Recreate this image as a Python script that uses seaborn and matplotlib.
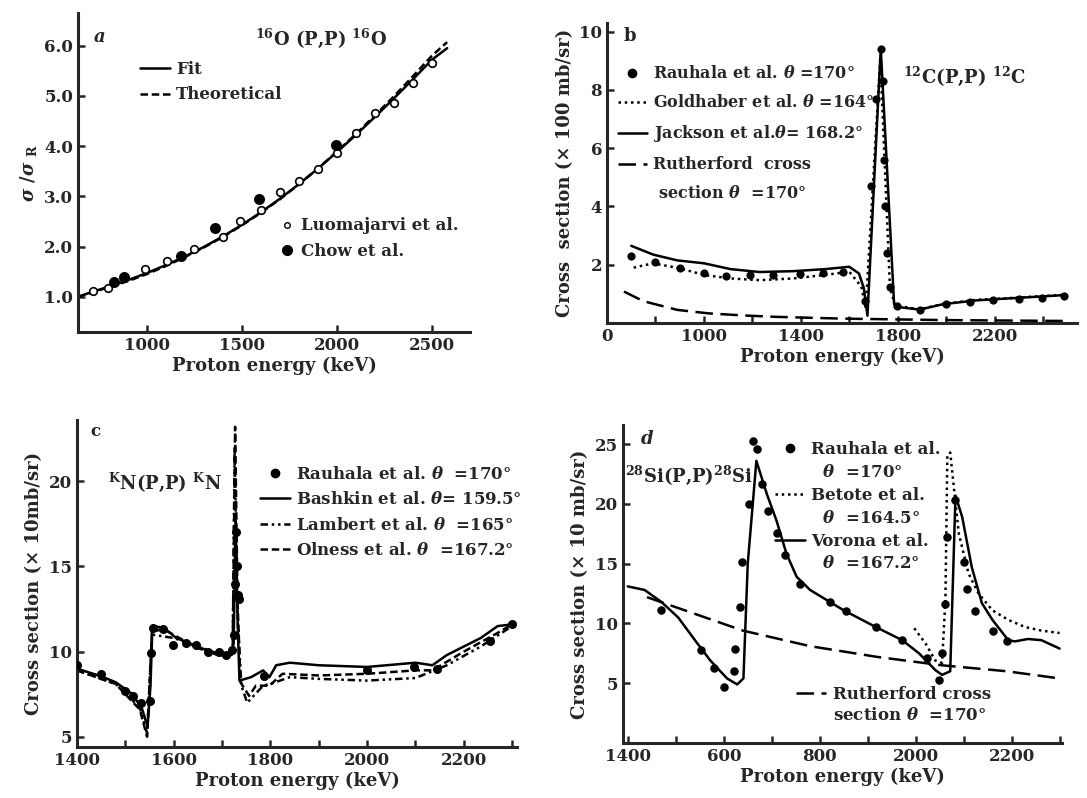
import matplotlib
matplotlib.use("Agg")
import matplotlib.pyplot as plt
from matplotlib.lines import Line2D
import seaborn as sns

# ---- panel a : 16O(p,p)16O, ratio to Rutherford ----
a_curve_e = [640, 700, 800, 900, 1000, 1100, 1200, 1300, 1400, 1500, 1600, 1700,
             1800, 1900, 2000, 2100, 2200, 2300, 2400, 2500, 2580]
a_fit = [1.0, 1.08, 1.2, 1.33, 1.47, 1.63, 1.8, 1.99, 2.2, 2.43, 2.68, 2.95,
         3.24, 3.55, 3.88, 4.22, 4.58, 4.95, 5.33, 5.72, 5.95]
a_theory = [1.0, 1.07, 1.19, 1.31, 1.45, 1.61, 1.79, 1.98, 2.19, 2.42, 2.67, 2.94,
            3.24, 3.55, 3.89, 4.24, 4.61, 4.99, 5.39, 5.8, 6.07]
a_luoma_e = [720, 800, 990, 1110, 1250, 1400, 1490, 1600, 1700, 1800, 1900, 2000,
             2100, 2200, 2300, 2400, 2500]
a_luoma = [1.12, 1.18, 1.55, 1.72, 1.96, 2.2, 2.5, 2.72, 3.08, 3.3, 3.55, 3.87,
           4.27, 4.65, 4.85, 5.25, 5.65]
a_chow_e = [830, 880, 1180, 1360, 1590, 1995]
a_chow = [1.3, 1.4, 1.82, 2.38, 2.95, 4.02]

# ---- panel b : 12C(p,p)12C ----
b_jackson_e = [700, 790, 890, 1000, 1110, 1230, 1370, 1500, 1600, 1640, 1660, 1675,
               1730, 1785, 1800, 1890, 1990, 2130, 2270, 2490]
b_jackson = [2.65, 2.35, 2.15, 2.05, 1.85, 1.75, 1.78, 1.85, 1.93, 1.7, 1.2, 0.25,
             9.42, 0.65, 0.55, 0.46, 0.65, 0.78, 0.85, 0.96]
b_gold_e = [710, 790, 900, 1000, 1110, 1230, 1370, 1500, 1600, 1650, 1668, 1728,
            1768, 1790, 1890, 1990, 2130, 2270, 2490]
b_gold = [1.9, 2.05, 1.88, 1.65, 1.53, 1.47, 1.53, 1.65, 1.76, 1.25, 0.5, 9.1,
          1.2, 0.6, 0.47, 0.66, 0.8, 0.86, 0.97]
b_rauh_e = [700, 800, 900, 1000, 1090, 1190, 1285, 1395, 1490, 1575, 1665, 1690,
            1712, 1730, 1740, 1744, 1748, 1755, 1770, 1795, 1890, 2000, 2100, 2195,
            2300, 2395, 2485]
b_rauh = [2.3, 2.1, 1.9, 1.7, 1.62, 1.65, 1.65, 1.68, 1.7, 1.76, 0.75, 4.7,
          7.7, 9.4, 8.3, 5.6, 4.0, 2.4, 1.25, 0.58, 0.45, 0.65, 0.73, 0.78,
          0.84, 0.86, 0.92]
b_ruth_e = [670, 750, 890, 1020, 1160, 1300, 1575, 1990, 2490]
b_ruth = [1.08, 0.75, 0.45, 0.33, 0.26, 0.21, 0.15, 0.1, 0.07]

# ---- panel c : N(p,p)N ----
c_bashkin_e = [1400, 1450, 1480, 1515, 1535, 1546, 1552, 1556, 1580, 1605, 1650, 1690,
               1720, 1724, 1728, 1732, 1736, 1760, 1785, 1798, 1812, 1840, 1900, 2000,
               2100, 2135, 2165, 2200, 2235, 2270, 2300]
c_bashkin = [9.0, 8.55, 8.2, 7.5, 6.6, 5.6, 8.0, 11.5, 11.4, 10.8, 10.3, 9.8,
             9.8, 10.5, 18.0, 12.0, 8.3, 8.5, 8.9, 8.5, 9.2, 9.35, 9.2, 9.1,
             9.35, 9.2, 9.8, 10.3, 10.8, 11.5, 11.6]
c_lambert_e = [1400, 1480, 1530, 1545, 1555, 1600, 1700, 1722, 1726, 1732, 1740, 1752,
               1785, 1805, 1840, 1900, 2000, 2100, 2165, 2235, 2300]
c_lambert = [8.9, 8.1, 6.7, 5.2, 11.0, 10.8, 9.8, 10.0, 22.0, 12.0, 8.0, 7.0,
             8.0, 8.15, 8.5, 8.4, 8.3, 8.45, 9.2, 10.3, 11.5]
c_olness_e = [1400, 1480, 1530, 1545, 1555, 1580, 1650, 1700, 1722, 1727, 1732, 1738,
              1756, 1770, 1798, 1825, 1900, 2000, 2100, 2135, 2200, 2270, 2300]
c_olness = [8.9, 8.1, 6.6, 5.0, 11.2, 11.3, 10.2, 9.8, 10.0, 23.2, 13.0, 8.2,
            7.4, 8.0, 8.0, 8.7, 8.6, 8.7, 8.9, 8.9, 10.0, 11.1, 11.6]
c_rauh_e = [1400, 1450, 1500, 1516, 1532, 1550, 1554, 1557, 1578, 1598, 1626, 1646,
            1670, 1694, 1708, 1720, 1724, 1726, 1728, 1730, 1733, 1736, 1786, 2000,
            2097, 2145, 2255, 2300]
c_rauh = [9.2, 8.7, 7.7, 7.4, 7.0, 7.1, 9.9, 11.4, 11.3, 10.4, 10.5, 10.4,
          10.0, 10.0, 9.8, 10.1, 11.0, 14.0, 17.0, 15.0, 13.3, 13.1, 8.55, 8.9,
          9.1, 9.0, 10.6, 11.6]

# ---- panel d : 28Si(p,p)28Si ----
d_vorona_e = [1400, 1435, 1470, 1505, 1540, 1572, 1607, 1628, 1641, 1650, 1668, 1690,
              1710, 1731, 1752, 1780, 1850, 1917, 1972, 2007, 2041, 2055, 2072, 2083,
              2097, 2117, 2138, 2160, 2193, 2207, 2234, 2262, 2300]
d_vorona = [13.1, 12.8, 11.8, 10.5, 8.6, 6.9, 5.4, 4.9, 5.4, 15.0, 23.6, 20.8,
            18.6, 15.8, 13.9, 12.8, 11.1, 9.7, 8.6, 7.5, 6.1, 5.7, 6.0, 20.7,
            18.9, 14.7, 11.7, 10.3, 8.6, 8.5, 8.7, 8.6, 7.9]
d_betote_e = [1997, 2021, 2041, 2055, 2062, 2066, 2072, 2078, 2090, 2110, 2131, 2160,
              2193, 2228, 2262, 2300]
d_betote = [9.6, 8.3, 6.9, 6.7, 12.0, 24.0, 24.3, 22.0, 17.5, 14.2, 12.5, 11.1,
            10.3, 9.7, 9.4, 9.2]
d_rauh_e = [1469, 1552, 1579, 1600, 1621, 1624, 1634, 1638, 1652, 1661, 1669, 1679,
            1693, 1710, 1728, 1759, 1821, 1855, 1917, 1972, 2024, 2048, 2055, 2062,
            2066, 2083, 2100, 2107, 2124, 2162, 2190]
d_rauh = [11.1, 7.8, 6.25, 4.7, 6.0, 7.9, 11.4, 15.1, 20.0, 25.3, 24.6, 21.7,
          19.4, 17.6, 15.7, 13.3, 11.8, 11.0, 9.7, 8.6, 7.1, 5.3, 7.5, 11.6,
          17.2, 20.3, 15.1, 12.9, 11.0, 9.4, 8.5]
d_ruth_e = [1440, 1640, 1780, 1920, 2055, 2190, 2300]
d_ruth = [12.2, 9.4, 8.1, 7.2, 6.5, 6.0, 5.4]

sns.set_style("ticks")
plt.rcParams['font.family'] = ['DejaVu Serif']
plt.rcParams['font.weight'] = 'bold'
plt.rcParams['axes.labelweight'] = 'bold'
plt.rcParams['mathtext.fontset'] = 'dejavuserif'
plt.rcParams['xtick.direction'] = 'in'
plt.rcParams['ytick.direction'] = 'in'

SOLID = '-'
DASH = (0, (3, 1.5))
LONGDASH = (0, (7, 3))
DOT = (0, (1, 1.5))
DASHDOT2 = (0, (3, 1.5, 1, 1.5, 1, 1.5))
LW = 1.8

W, H = 1087, 798
fig = plt.figure(figsize=(W / 100, H / 100), dpi=100)


def add_ax(l, t, r, b):
    ax = fig.add_axes([l / W, 1 - b / H, (r - l) / W, (b - t) / H])
    for s in ['top', 'right']:
        ax.spines[s].set_visible(False)
    for s in ['left', 'bottom']:
        ax.spines[s].set_linewidth(2.2)
    ax.tick_params(labelsize=12, width=1.8, length=5, which='both')
    return ax


def line(ax, x, y, ls):
    sns.lineplot(x=x, y=y, ax=ax, color='black', lw=LW, linestyle=ls,
                 sort=False, estimator=None, legend=False)


def dots(ax, x, y, s=24, fc='black'):
    sns.scatterplot(x=x, y=y, ax=ax, s=s, color=fc, edgecolor='black',
                    linewidth=1.2, legend=False, zorder=3)


def h_line(ls):
    return Line2D([], [], color='black', lw=LW, linestyle=ls)


def h_dot(fc='black', ms=6):
    return Line2D([], [], color='black', marker='o', ms=ms, mfc=fc, lw=0)


def h_blank():
    return Line2D([], [], lw=0)


def legend(ax, handles, labels, anchor, hl=1.8, spacing=0.5, size=12):
    return ax.legend(handles, labels, loc='upper left', bbox_to_anchor=anchor,
                     frameon=False, fontsize=size, handlelength=hl,
                     handletextpad=0.4, borderaxespad=0, labelspacing=spacing)


# ---- a ----
ax = add_ax(78, 13, 470, 332)
line(ax, a_curve_e, a_theory, DASH)
line(ax, a_curve_e, a_fit, SOLID)
dots(ax, a_luoma_e, a_luoma, s=30, fc='white')
dots(ax, a_chow_e, a_chow, s=45)
ax.set_xlim(640, 2700)
ax.set_ylim(0.3, 6.65)
ax.set_xticks([1000, 1500, 2000, 2500])
ax.set_yticks([1, 2, 3, 4, 5, 6])
ax.set_yticklabels(['1.0', '2.0', '3.0', '4.0', '5.0', '6.0'])
ax.set_xlabel('Proton energy (keV)', fontsize=13, labelpad=2)
ax.set_ylabel(r'$\sigma$ /$\sigma$ $_{\mathbf{R}}$', fontsize=13)
ax.add_artist(legend(ax, [h_line(SOLID), h_line(DASH)], ['Fit', 'Theoretical'],
                     (0.14, 0.87)))
legend(ax, [h_dot('white', 4), h_dot('black', 7)], ['Luomajarvi et al.', 'Chow et al.'],
       (0.5, 0.38), hl=0.8)
ax.text(0.04, 0.91, 'a', transform=ax.transAxes, fontsize=13, style='italic')
ax.text(0.62, 0.9, r'$^{16}$O (P,P) $^{16}$O', transform=ax.transAxes,
        fontsize=13, ha='center')

# ---- b ----
ax = add_ax(607, 23, 1077, 323)
line(ax, b_ruth_e, b_ruth, LONGDASH)
line(ax, b_gold_e, b_gold, DOT)
line(ax, b_jackson_e, b_jackson, SOLID)
dots(ax, b_rauh_e, b_rauh, s=22)
ax.set_xlim(600, 2540)
ax.set_ylim(0, 10.3)
ax.set_xticks([600, 1000, 1400, 1800, 2200])
ax.set_xticklabels(['0', '1000', '1400', '1800', '2200'])
ax.set_xticks([800, 1200, 1600, 2000, 2400], minor=True)
ax.set_yticks([2, 4, 6, 8, 10])
ax.set_xlabel('Proton energy (keV)', fontsize=13, labelpad=2)
ax.set_ylabel('Cross  section (× 100 mb/sr)', fontsize=13)
legend(ax, [h_dot(), h_line(DOT), h_line(SOLID), h_line(LONGDASH), h_blank()],
       [r'Rauhala et al. $\theta$ =170°', r'Goldhaber et al. $\theta$ =164°',
        r'Jackson et al.$\theta$= 168.2°', 'Rutherford  cross',
        ' section $\\theta$  =170°'],
       (0.01, 0.88), spacing=0.75, size=11.5)
ax.text(0.035, 0.94, 'b', transform=ax.transAxes, fontsize=13)
ax.text(0.76, 0.8, r'$^{12}$C(P,P) $^{12}$C', transform=ax.transAxes,
        fontsize=13, ha='center')

# ---- c ----
ax = add_ax(77, 420, 517, 747)
line(ax, c_lambert_e, c_lambert, DASHDOT2)
line(ax, c_olness_e, c_olness, DASH)
line(ax, c_bashkin_e, c_bashkin, SOLID)
dots(ax, c_rauh_e, c_rauh, s=28)
ax.set_xlim(1400, 2310)
ax.set_ylim(4.4, 23.6)
ax.set_xticks([1400, 1600, 1800, 2000, 2200])
ax.set_xticks([1500, 1700, 1900, 2100, 2300], minor=True)
ax.set_yticks([5, 10, 15, 20])
ax.set_xlabel('Proton energy (keV)', fontsize=13, labelpad=2)
ax.set_ylabel('Cross section (× 10mb/sr)', fontsize=13)
legend(ax, [h_dot(), h_line(SOLID), h_line(DASHDOT2), h_line(DASH)],
       [r'Rauhala et al. $\theta$  =170°', r'Bashkin et al. $\theta$= 159.5°',
        r'Lambert et al. $\theta$  =165°', r'Olness et al. $\theta$  =167.2°'],
       (0.4, 0.88))
ax.text(0.03, 0.95, 'c', transform=ax.transAxes, fontsize=12)
ax.text(0.2, 0.79, r'$^{\mathrm{K}}$N(P,P) $^{\mathrm{K}}$N', transform=ax.transAxes,
        fontsize=13, ha='center')

# ---- d ----
ax = add_ax(623, 425, 1062, 743)
line(ax, d_ruth_e, d_ruth, LONGDASH)
line(ax, d_betote_e, d_betote, DOT)
line(ax, d_vorona_e, d_vorona, SOLID)
dots(ax, d_rauh_e, d_rauh, s=24)
ax.set_xlim(1390, 2305)
ax.set_ylim(0, 26.6)
ax.set_xticks([1400, 1600, 1800, 2000, 2200])
ax.set_xticklabels(['1400', '600', '800', '2000', '2200'])
ax.set_xticks([1500, 1700, 1900, 2100, 2300], minor=True)
ax.set_yticks([5, 10, 15, 20, 25])
ax.set_xlabel('Proton energy (keV)', fontsize=13, labelpad=2)
ax.set_ylabel('Cross section (× 10 mb/sr)', fontsize=13)
ax.add_artist(legend(ax, [h_dot(), h_blank(), h_line(DOT), h_blank(), h_line(SOLID), h_blank()],
                     ['Rauhala et al.', '  $\\theta$  =170°', 'Betote et al.',
                      '  $\\theta$  =164.5°', 'Vorona et al.', '  $\\theta$  =167.2°'],
                     (0.33, 0.97), spacing=0.35))
legend(ax, [h_line(LONGDASH), h_blank()], ['Rutherford cross', 'section $\\theta$  =170°'],
       (0.38, 0.2), spacing=0.25)
ax.text(0.04, 0.94, 'd', transform=ax.transAxes, fontsize=13, style='italic')
ax.text(0.15, 0.82, r'$^{28}$Si(P,P)$^{28}$Si', transform=ax.transAxes,
        fontsize=13, ha='center')

fig.savefig('out.png', dpi=100)
